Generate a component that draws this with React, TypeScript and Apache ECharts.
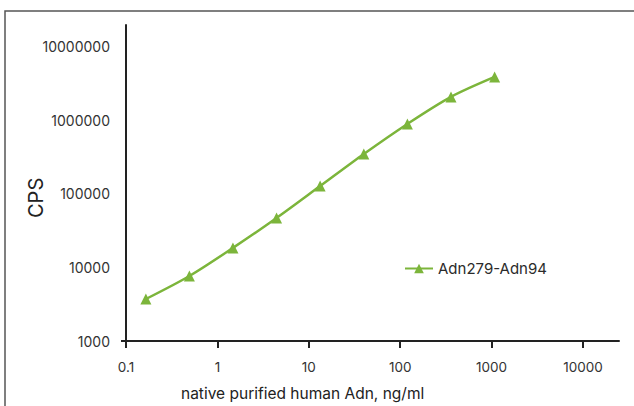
import React, { useEffect, useRef } from "react";
import * as echarts from "echarts";

const concentrations = [0.165, 0.494, 1.48, 4.44, 13.3, 40, 120, 360, 1080];
const cps = [3720, 7640, 18400, 46900, 127000, 347000, 888000, 2070000, 3860000];
const xTicks = [0.1, 1, 10, 100, 1000, 10000];
const yTicks = [1000, 10000, 100000, 1000000, 10000000];
const seriesName = "Adn279-Adn94";
const xTitle = "native purified human Adn, ng/ml";
const yTitle = "CPS";

const GREEN = "#7cb53b";
const FONT = "Inter, 'Noto Sans', sans-serif";

export default function App() {
  const ref = useRef<HTMLDivElement>(null);
  useEffect(() => {
    document.body.style.margin = "0";
    if (!ref.current) return;
    const chart = echarts.init(ref.current, undefined, { renderer: "svg" });
    chart.setOption({
      animation: false,
      backgroundColor: "#ffffff",
      textStyle: { fontFamily: FONT },
      grid: { left: 126, right: 15, top: 25, bottom: 65, containLabel: false },
      legend: {
        data: [seriesName],
        left: 399,
        top: 256,
        itemWidth: 28,
        itemHeight: 12,
        itemGap: 8,
        textStyle: { fontSize: 15, color: "#2b2b2b", fontFamily: FONT },
      },
      xAxis: {
        type: "log",
        logBase: 10,
        min: 0.1,
        max: 24800,
        axisLine: { show: true, lineStyle: { color: "#222", width: 2 } },
        axisTick: {
          show: true,
          length: 7,
          inside: false,
          lineStyle: { color: "#222", width: 2 },
          customValues: xTicks,
        },
        axisLabel: {
          customValues: xTicks,
          margin: 19,
          fontSize: 13.5,
          color: "#333",
          fontFamily: FONT,
          formatter: (v: number) => String(v),
        },
        splitLine: { show: false },
        minorTick: { show: false },
      },
      yAxis: {
        type: "log",
        logBase: 10,
        min: 1000,
        max: 19600000,
        axisLine: { show: true, lineStyle: { color: "#222", width: 2 } },
        axisTick: { show: false, customValues: yTicks },
        axisLabel: {
          customValues: yTicks,
          margin: 16,
          fontSize: 14,
          color: "#333",
          fontFamily: FONT,
          formatter: (v: number) => String(v),
        },
        splitLine: { show: false },
      },
      graphic: [
        {
          type: "rect",
          silent: true,
          z: -10,
          shape: { x: 5, y: 11, width: 700, height: 500 },
          style: { fill: "none", stroke: "#555", lineWidth: 1.5 },
        },
        {
          type: "line",
          silent: true,
          shape: { x1: 121, y1: 341, x2: 127, y2: 341 },
          style: { stroke: "#222", lineWidth: 2 },
        },
        {
          type: "line",
          silent: true,
          shape: { x1: 126, y1: 340, x2: 126, y2: 348 },
          style: { stroke: "#222", lineWidth: 2 },
        },
        {
          type: "text",
          left: 181,
          top: 385,
          style: { text: xTitle, fontSize: 15.5, fill: "#222", fontFamily: FONT },
        },
        {
          type: "text",
          x: 26,
          y: 218,
          rotation: Math.PI / 2,
          style: { text: yTitle, fontSize: 20, fill: "#222", fontFamily: FONT },
        },
      ],
      series: [
        {
          name: seriesName,
          type: "line",
          data: concentrations.map((c, i) => [c, cps[i]]),
          smooth: 0.3,
          symbol: "triangle",
          symbolSize: 11,
          itemStyle: { color: GREEN },
          lineStyle: { color: GREEN, width: 2.5 },
        },
      ],
    });
    return () => chart.dispose();
  }, []);
  return <div ref={ref} style={{ width: 634, height: 406 }} />;
}
